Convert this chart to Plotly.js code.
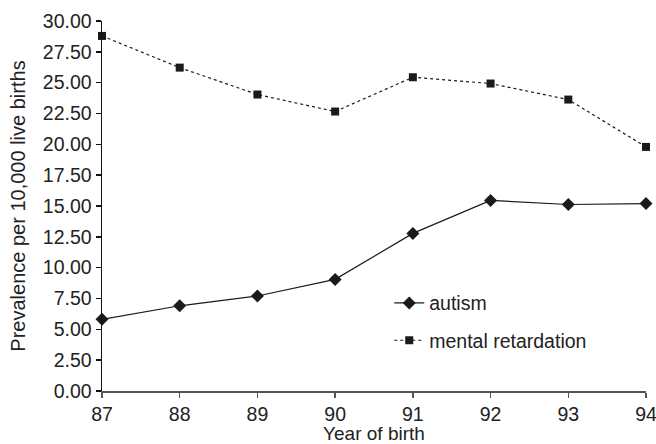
<!DOCTYPE html>
<html>
<head>
<meta charset="utf-8">
<script src="https://cdn.plot.ly/plotly-3.0.1.min.js"></script>
<style>html,body{margin:0;padding:0;background:#fff;}#chart{width:656px;height:444px;}</style>
</head>
<body>
<div id="chart"></div>
<script>
const years = [87, 88, 89, 90, 91, 92, 93, 94];
const tickLabels = ["87", "88", "89", "90", "91", "92", "93", "94"];
const autism = [5.81, 6.91, 7.70, 9.05, 12.78, 15.45, 15.12, 15.20];
const mentalRetardation = [28.79, 26.22, 24.04, 22.66, 25.44, 24.93, 23.63, 19.79];
const yTicks = [0, 2.5, 5, 7.5, 10, 12.5, 15, 17.5, 20, 22.5, 25, 27.5, 30];

const fontFam = 'Liberation Sans, Arial, sans-serif';
const traces = [
  {
    x: years, y: autism, name: 'autism', type: 'scatter', mode: 'lines+markers',
    legendgroup: 'a',
    line: {color: '#1a1a1a', width: 1.2},
    marker: {symbol: 'diamond', size: 10, color: '#1a1a1a'},
    cliponaxis: false
  },
  {
    x: years, y: mentalRetardation, name: 'mental retardation', type: 'scatter', mode: 'lines+markers',
    legendgroup: 'b',
    line: {color: '#1a1a1a', width: 1.2, dash: 'dot'},
    marker: {symbol: 'square', size: 8, color: '#1a1a1a'},
    cliponaxis: false
  }
];

const layout = {
  width: 656, height: 444,
  margin: {l: 102, r: 10, t: 21, b: 53},
  paper_bgcolor: '#fff', plot_bgcolor: '#fff',
  font: {family: fontFam, size: 19.5, color: '#222'},
  showlegend: true,
  legend: {
    x: 0.528, y: 0.29, xanchor: 'left', yanchor: 'top',
    bgcolor: 'rgba(0,0,0,0)', font: {size: 19.5, color: '#222'},
    tracegroupgap: 9, traceorder: 'grouped'
  },
  xaxis: {
    range: [87, 94], tickvals: years, ticktext: tickLabels,
    ticklabeloverflow: 'allow',
    showgrid: false, zeroline: false, showline: true, linecolor: '#555', linewidth: 1.5,
    ticks: 'outside', ticklen: 5, tickcolor: '#555', tickwidth: 1.5,
    title: {text: 'Year of birth', standoff: 8, font: {size: 19}},
    fixedrange: true
  },
  yaxis: {
    range: [0, 30], tickvals: yTicks, tickformat: '.2f',
    showgrid: false, zeroline: false, showline: true, linecolor: '#111', linewidth: 1.5,
    ticks: 'outside', ticklen: 5, tickcolor: '#111', tickwidth: 1.5,
    title: {text: 'Prevalence per 10,000 live births', standoff: 12, font: {size: 20}},
    fixedrange: true
  }
};

Plotly.newPlot('chart', traces, layout, {displayModeBar: false, staticPlot: true});
</script>
</body>
</html>
